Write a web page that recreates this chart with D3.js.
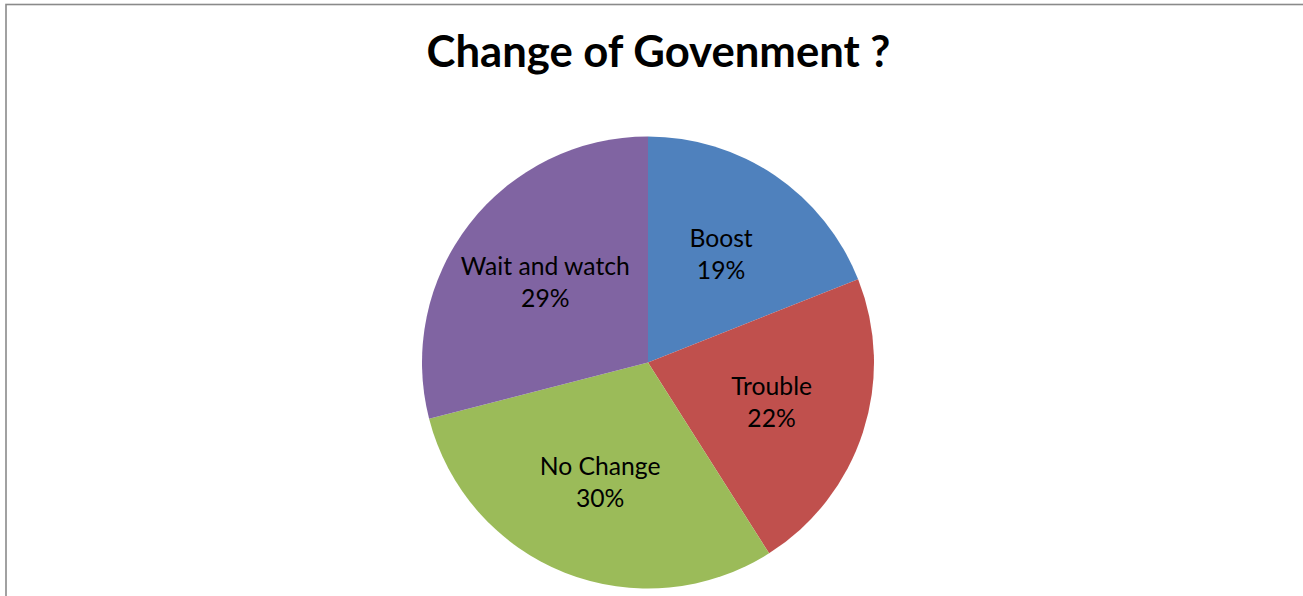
<!DOCTYPE html>
<html>
<head>
<meta charset="utf-8">
<script src="https://cdn.jsdelivr.net/npm/d3@7"></script>
<style>
  html, body { margin: 0; padding: 0; background: #ffffff; overflow: hidden; }
  svg { display: block; }
</style>
</head>
<body>
<svg id="chart" width="1303" height="596"></svg>
<script>
// Survey answers: "Change of Govenment ?"
const categories = ["Boost", "Trouble", "No Change", "Wait and watch"];
const shares = [19, 22, 30, 29];
const colors = ["#4F81BD", "#C0504D", "#9BBB59", "#8064A2"];
const titleText = "Change of Govenment ?";

const W = 1303, H = 596;
const svg = d3.select("#chart");

// outer chart frame (runs past the right and bottom edges)
svg.append("rect")
  .attr("x", 6).attr("y", 4.5)
  .attr("width", W + 20).attr("height", H + 20)
  .attr("fill", "#ffffff")
  .attr("stroke", "#8a8a8a")
  .attr("stroke-width", 1.6);

const fontFamily = "Lato, 'Open Sans', 'Liberation Sans', sans-serif";

// fit a font size so that a given string measures a target width
function fitSize(text, weight, target) {
  const probe = svg.append("text")
    .attr("font-family", fontFamily)
    .attr("font-weight", weight)
    .attr("font-size", 40)
    .text(text);
  const w = probe.node().getComputedTextLength();
  probe.remove();
  return 40 * target / w;
}

// title
const titleSize = fitSize(titleText, 700, 464);
svg.append("text")
  .attr("x", 658.5).attr("y", 67)
  .attr("text-anchor", "middle")
  .attr("font-family", fontFamily)
  .attr("font-weight", 700)
  .attr("font-size", titleSize)
  .attr("fill", "#000000")
  .text(titleText);

// pie
const cx = 648, cy = 362.5, radius = 226;
const pie = d3.pie().sort(null).value(d => d.value);
const data = categories.map((c, i) => ({ name: c, value: shares[i], color: colors[i] }));
const arcs = pie(data);
const arc = d3.arc().innerRadius(0).outerRadius(radius);
const labelArc = d3.arc().innerRadius(radius * 0.575).outerRadius(radius * 0.575);

const g = svg.append("g").attr("transform", `translate(${cx},${cy})`);

g.selectAll("path.slice")
  .data(arcs)
  .join("path")
  .attr("class", "slice")
  .attr("d", arc)
  .attr("fill", d => d.data.color);

// data labels: category name and percentage
const total = d3.sum(shares);
const labelSize = fitSize("Wait and watch", 400, 169);
const labels = g.selectAll("text.lbl")
  .data(arcs)
  .join("text")
  .attr("class", "lbl")
  .attr("text-anchor", "middle")
  .attr("font-family", fontFamily)
  .attr("font-size", labelSize)
  .attr("fill", "#000000")
  .attr("transform", d => {
    const [x, y] = labelArc.centroid(d);
    return `translate(${x},${y})`;
  });

labels.append("tspan")
  .attr("x", 0).attr("y", -8)
  .text(d => d.data.name);
labels.append("tspan")
  .attr("x", 0).attr("y", 24)
  .text(d => Math.round(d.data.value / total * 100) + "%");
</script>
</body>
</html>
